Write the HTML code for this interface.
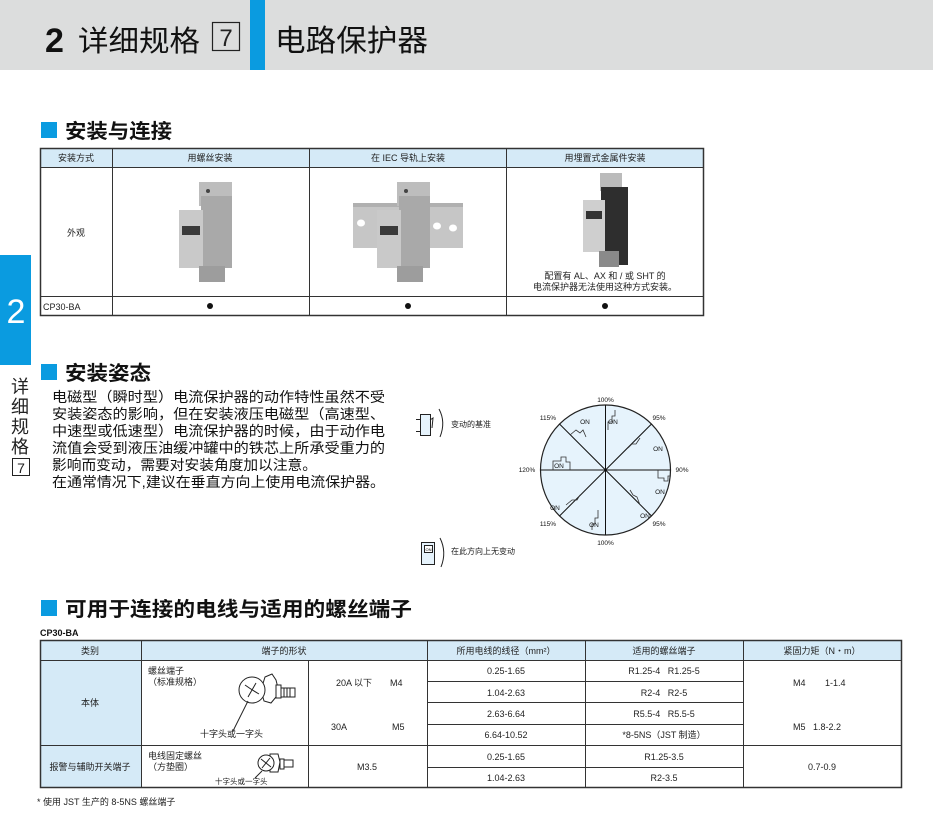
<!DOCTYPE html>
<html><head><meta charset="utf-8"><style>
html,body{margin:0;padding:0;background:#fff;}
svg{display:block;font-family:"Liberation Sans","Noto Sans CJK SC",sans-serif;}
</style></head><body>
<svg width="933" height="834" viewBox="0 0 933 834" xmlns="http://www.w3.org/2000/svg">
<!-- header -->
<rect x="0" y="0" width="933" height="70" fill="#dcdddd"/>
<rect x="250" y="0" width="15" height="70" fill="#0a9be0"/>
<text x="45" y="52" font-size="34" font-weight="bold" fill="#111">2</text>
<text x="78" y="51" font-size="29" fill="#111" textLength="122" lengthAdjust="spacingAndGlyphs">详细规格</text>
<rect x="212.5" y="22.5" width="27" height="28" fill="none" stroke="#222" stroke-width="1.2"/>
<text x="226" y="46" font-size="24" fill="#222" text-anchor="middle">7</text>
<text x="275" y="51" font-size="30" fill="#111" textLength="153" lengthAdjust="spacingAndGlyphs">电路保护器</text>

<!-- left tab -->
<rect x="0" y="255" width="31" height="110" fill="#0a9be0"/>
<text x="16" y="323" font-size="34" fill="#fff" text-anchor="middle">2</text>
<g font-size="18" fill="#222" text-anchor="middle">
<text x="20" y="393">详</text><text x="20" y="413">细</text><text x="20" y="433">规</text><text x="20" y="453">格</text>
</g>
<rect x="12.5" y="458.5" width="17" height="17" fill="none" stroke="#222"/>
<text x="21" y="473" font-size="14" fill="#222" text-anchor="middle">7</text>

<!-- section 1 -->
<rect x="41" y="122" width="16" height="16" fill="#0a9be0"/>
<text x="65" y="138" font-size="20" font-weight="bold" fill="#111" textLength="107" lengthAdjust="spacingAndGlyphs">安装与连接</text>

<rect x="40" y="148" width="664" height="19" fill="#d5eaf7"/>
<g stroke="#333" stroke-width="1" fill="none">
<rect x="40.5" y="148.5" width="663" height="167" stroke-width="1.5"/>
<line x1="40" y1="167.5" x2="704" y2="167.5"/>
<line x1="40" y1="296.5" x2="704" y2="296.5"/>
<line x1="112.5" y1="148" x2="112.5" y2="316"/>
<line x1="309.5" y1="148" x2="309.5" y2="316"/>
<line x1="506.5" y1="148" x2="506.5" y2="316"/>
</g>
<g font-size="9" fill="#222" text-anchor="middle">
<text x="76" y="161">安装方式</text>
<text x="210" y="161">用螺丝安装</text>
<text x="408" y="161">在 IEC 导轨上安装</text>
<text x="605" y="161">用埋置式金属件安装</text>
<text x="76" y="236">外观</text>
<text x="605" y="279">配置有 AL、AX 和 / 或 SHT 的</text>
<text x="605" y="290">电流保护器无法使用这种方式安装。</text>
</g>
<text x="43" y="310" font-size="9" fill="#222">CP30-BA</text>
<circle cx="210" cy="306" r="3" fill="#111"/>
<circle cx="408" cy="306" r="3" fill="#111"/>
<circle cx="605" cy="306" r="3" fill="#111"/>

<!-- breaker 1 -->
<g transform="translate(179,182)">
<rect x="20" y="0" width="33" height="24" fill="#bdbdbd"/>
<rect x="22" y="14" width="31" height="72" fill="#a9a9a9"/>
<rect x="0" y="28" width="24" height="58" fill="#c9c9c9"/>
<rect x="3" y="44" width="18" height="9" fill="#3a3a3a"/>
<rect x="20" y="84" width="26" height="16" fill="#9d9d9d"/>
<circle cx="29" cy="9" r="2" fill="#444"/>
</g>
<!-- rail + breaker 2 -->
<rect x="353" y="203" width="110" height="45" fill="#c6c6c6"/>
<rect x="353" y="203" width="110" height="4" fill="#b0b0b0"/>
<ellipse cx="361" cy="223" rx="4" ry="3.5" fill="#fff"/>
<ellipse cx="437" cy="226" rx="4" ry="3.5" fill="#fff"/>
<ellipse cx="453" cy="228" rx="4" ry="3.5" fill="#fff"/>
<g transform="translate(377,182)">
<rect x="20" y="0" width="33" height="24" fill="#bdbdbd"/>
<rect x="22" y="14" width="31" height="72" fill="#a9a9a9"/>
<rect x="0" y="28" width="24" height="58" fill="#c9c9c9"/>
<rect x="3" y="44" width="18" height="9" fill="#3a3a3a"/>
<rect x="20" y="84" width="26" height="16" fill="#9d9d9d"/>
<circle cx="29" cy="9" r="2" fill="#444"/>
</g>
<!-- breaker 3 -->
<g transform="translate(583,173)">
<rect x="17" y="0" width="22" height="18" fill="#bbb"/>
<rect x="18" y="14" width="27" height="78" fill="#2e2e2e"/>
<rect x="0" y="27" width="22" height="52" fill="#cfcfcf"/>
<rect x="3" y="38" width="16" height="8" fill="#333"/>
<rect x="16" y="78" width="20" height="16" fill="#8a8a8a"/>
</g>

<!-- section 2 -->
<rect x="41" y="364" width="16" height="16" fill="#0a9be0"/>
<text x="65" y="380" font-size="20" font-weight="bold" fill="#111" textLength="86" lengthAdjust="spacingAndGlyphs">安装姿态</text>
<g font-size="14" fill="#111">
<text x="52" y="402" textLength="333" lengthAdjust="spacingAndGlyphs">电磁型（瞬时型）电流保护器的动作特性虽然不受</text>
<text x="52" y="419" textLength="333" lengthAdjust="spacingAndGlyphs">安装姿态的影响，但在安装液压电磁型（高速型、</text>
<text x="52" y="436" textLength="333" lengthAdjust="spacingAndGlyphs">中速型或低速型）电流保护器的时候，由于动作电</text>
<text x="52" y="453" textLength="333" lengthAdjust="spacingAndGlyphs">流值会受到液压油缓冲罐中的铁芯上所承受重力的</text>
<text x="52" y="470" textLength="265" lengthAdjust="spacingAndGlyphs">影响而变动，需要对安装角度加以注意。</text>
<text x="52" y="487" textLength="333" lengthAdjust="spacingAndGlyphs">在通常情况下,建议在垂直方向上使用电流保护器。</text>
</g>

<!-- icons -->
<g stroke="#222" fill="#e6f3fc" stroke-width="1">
<rect x="420.5" y="414.5" width="10" height="21"/>
<line x1="416" y1="419.5" x2="420" y2="419.5"/>
<line x1="416" y1="431.5" x2="420" y2="431.5"/>
<path d="M430 420 L433 418 L432 428" fill="none"/>
<path d="M439 409 Q446 422 440 437" fill="none"/>
<rect x="421.5" y="542.5" width="13" height="22"/>
<rect x="424.5" y="545.5" width="8" height="7" fill="#fff"/>
<path d="M440 538 Q447 552 441 567" fill="none"/>
</g>
<text x="428.5" y="551" font-size="4" text-anchor="middle">ON</text>
<text x="451" y="427" font-size="8" fill="#222">变动的基准</text>
<text x="451" y="554" font-size="8" fill="#222">在此方向上无变动</text>

<!-- circle -->
<circle cx="605.5" cy="470" r="65" fill="#e6f3fc" stroke="#222" stroke-width="1.2"/>
<g stroke="#111" stroke-width="1">
<line x1="605.5" y1="405" x2="605.5" y2="535"/>
<line x1="540.5" y1="470" x2="670.5" y2="470"/>
<line x1="559.5" y1="424" x2="651.5" y2="516"/>
<line x1="651.5" y1="424" x2="559.5" y2="516"/>
</g>
<g stroke="#333" stroke-width="0.8" fill="none">
<path d="M608 430 V422 H612 V416 H615 V410"/>
<path d="M553 470 V461 H561 V457 H566 V462 H570 V470"/>
<path d="M598 510 V518 H595 V524 H592 V530"/>
<path d="M658 470 V478 H664 V481 H668 V476 H670"/>
<path d="M570 435 L576 430 L580 433 L583 430 L586 437"/>
<path d="M628 448 L632 444 L636 444 L640 438"/>
<path d="M566 505 L572 500 L577 500 L580 495"/>
<path d="M630 490 L633 495 L637 497 L640 505"/>
</g>
<g font-size="6.5" fill="#111" text-anchor="middle">
<text x="613" y="424">ON</text>
<text x="585" y="424">ON</text>
<text x="658" y="451">ON</text>
<text x="559" y="468">ON</text>
<text x="660" y="494">ON</text>
<text x="555" y="510">ON</text>
<text x="645" y="518">ON</text>
<text x="594" y="527">ON</text>
<text x="605.5" y="402">100%</text>
<text x="605.5" y="545">100%</text>
<text x="548" y="420">115%</text>
<text x="548" y="526">115%</text>
<text x="659" y="420">95%</text>
<text x="659" y="526">95%</text>
<text x="527" y="472">120%</text>
<text x="682" y="472">90%</text>
</g>

<!-- section 3 -->
<rect x="41" y="600" width="16" height="16" fill="#0a9be0"/>
<text x="65" y="616" font-size="20" font-weight="bold" fill="#111" textLength="347" lengthAdjust="spacingAndGlyphs">可用于连接的电线与适用的螺丝端子</text>
<text x="40" y="636" font-size="9" font-weight="bold" fill="#111">CP30-BA</text>

<rect x="40" y="640" width="862" height="20" fill="#d5eaf7"/>
<rect x="40" y="660" width="101" height="128" fill="#d5eaf7"/>
<g stroke="#333" stroke-width="1" fill="none">
<rect x="40.5" y="640.5" width="861" height="147" stroke-width="1.5"/>
<line x1="40" y1="660.5" x2="902" y2="660.5"/>
<line x1="40" y1="745.5" x2="902" y2="745.5"/>
<line x1="427" y1="681.5" x2="743" y2="681.5"/>
<line x1="427" y1="702.5" x2="743" y2="702.5"/>
<line x1="427" y1="724.5" x2="743" y2="724.5"/>
<line x1="427" y1="767.5" x2="743" y2="767.5"/>
<line x1="141.5" y1="640" x2="141.5" y2="788"/>
<line x1="308.5" y1="660" x2="308.5" y2="788"/>
<line x1="427.5" y1="640" x2="427.5" y2="788"/>
<line x1="585.5" y1="640" x2="585.5" y2="788"/>
<line x1="743.5" y1="640" x2="743.5" y2="788"/>
</g>
<g font-size="9" fill="#222" text-anchor="middle">
<text x="90" y="654">类别</text>
<text x="284" y="654">端子的形状</text>
<text x="506" y="654">所用电线的线径（mm²）</text>
<text x="664" y="654">适用的螺丝端子</text>
<text x="822" y="654">紧固力矩（N・m）</text>
<text x="90" y="706">本体</text>
<text x="90" y="770">报警与辅助开关端子</text>
<text x="367" y="770">M3.5</text>
<text x="506" y="674">0.25-1.65</text>
<text x="506" y="696">1.04-2.63</text>
<text x="506" y="717">2.63-6.64</text>
<text x="506" y="738">6.64-10.52</text>
<text x="506" y="760">0.25-1.65</text>
<text x="506" y="781">1.04-2.63</text>
<text x="664" y="674">R1.25-4&#160;&#160;&#160;R1.25-5</text>
<text x="664" y="696">R2-4&#160;&#160;&#160;R2-5</text>
<text x="664" y="717">R5.5-4&#160;&#160;&#160;R5.5-5</text>
<text x="664" y="738">*8-5NS（JST 制造）</text>
<text x="664" y="760">R1.25-3.5</text>
<text x="664" y="781">R2-3.5</text>
<text x="822" y="770">0.7-0.9</text>
</g>
<g font-size="9" fill="#222">
<text x="148" y="674">螺丝端子</text>
<text x="148" y="685">（标准规格）</text>
<text x="148" y="759">电线固定螺丝</text>
<text x="148" y="770">（方垫圈）</text>
<text x="336" y="686">20A 以下</text>
<text x="390" y="686">M4</text>
<text x="331" y="730">30A</text>
<text x="392" y="730">M5</text>
<text x="793" y="686">M4</text>
<text x="825" y="686">1-1.4</text>
<text x="793" y="730">M5</text>
<text x="813" y="730">1.8-2.2</text>
<text x="200" y="737">十字头或一字头</text>
<text x="37" y="805">* 使用 JST 生产的 8-5NS 螺丝端子</text>
</g>
<text x="215" y="784" font-size="7.5" fill="#222">十字头或一字头</text>

<!-- screw drawings -->
<g stroke="#222" stroke-width="1" fill="#fff">
<path d="M265 677 L272 674 L276 680 L278 688 L276 697 L271 703 L264 701 L261 690 Z"/>
<rect x="276" y="685" width="5" height="13"/>
<rect x="281" y="688" width="14" height="9"/>
<line x1="284" y1="688" x2="284" y2="697"/>
<line x1="287" y1="688" x2="287" y2="697"/>
<line x1="290" y1="688" x2="290" y2="697"/>
<ellipse cx="252" cy="690" rx="13" ry="13"/>
<path d="M245 685 Q252 690 259 694 M248 697 Q252 690 256 683"/>
<line x1="248" y1="701" x2="233" y2="731" fill="none"/>
<path d="M270 754 L278 754 L280 762 L278 772 L270 772 Z"/>
<rect x="280" y="759" width="4" height="10"/>
<rect x="284" y="760" width="9" height="7"/>
<ellipse cx="266" cy="763" rx="8" ry="8"/>
<path d="M261 759 L271 767 M262 768 L270 758"/>
<line x1="262" y1="771" x2="255" y2="778" fill="none"/>
</g>
</svg>
</body></html>
